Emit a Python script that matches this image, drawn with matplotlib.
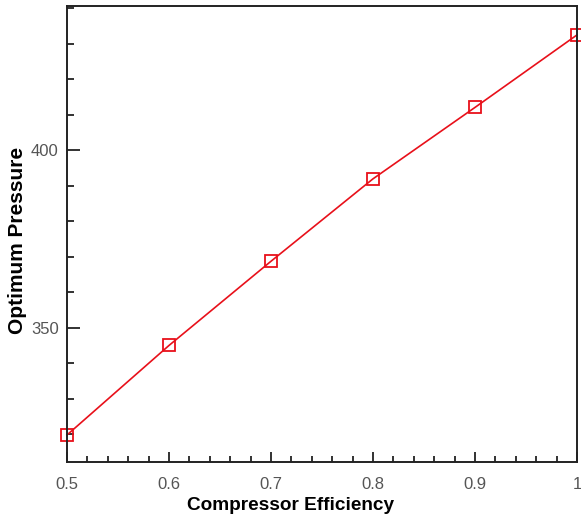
import matplotlib
matplotlib.use('Agg')
import matplotlib.pyplot as plt
from matplotlib.ticker import MultipleLocator

# data
efficiency = [0.5, 0.6, 0.7, 0.8, 0.9, 1.0]
pressure = [319.8, 345.0, 368.7, 391.9, 412.0, 432.4]

plt.rcParams['font.family'] = ['Liberation Sans', 'DejaVu Sans']

fig = plt.figure(figsize=(5.81, 5.17), dpi=100)
ax = fig.add_axes([0.1153, 0.1064, 0.8777, 0.8816])

ax.plot(efficiency, pressure, color='#e8101a', linewidth=1.2,
        marker='s', markersize=8, markerfacecolor='none',
        markeredgecolor='#e8101a', markeredgewidth=1.3, clip_on=False)

ax.set_xlim(0.5, 1.0)
ax.set_ylim(312.2, 440.5)

# major / minor ticks pointing inward
ax.xaxis.set_major_locator(MultipleLocator(0.1))
ax.xaxis.set_minor_locator(MultipleLocator(0.02))
ax.yaxis.set_major_locator(MultipleLocator(50))
ax.yaxis.set_minor_locator(MultipleLocator(10))
ax.tick_params(which='both', direction='in', top=False, right=False,
               colors='#222222', labelcolor='#555555', labelsize=12, width=1.3)
ax.tick_params(axis='x', which='major', length=7, pad=11)
ax.tick_params(axis='x', which='minor', length=4)
ax.tick_params(axis='y', which='major', length=9, pad=6)
ax.tick_params(axis='y', which='minor', length=5)
ax.set_xticks([0.5, 0.6, 0.7, 0.8, 0.9, 1.0], ['0.5', '0.6', '0.7', '0.8', '0.9', '1'])

for sp in ax.spines.values():
    sp.set_linewidth(1.4)
    sp.set_color('#222222')

ax.set_xlabel('Compressor Efficiency', fontsize=13.7, fontweight='bold')
ax.set_ylabel('Optimum Pressure', fontsize=15, fontweight='bold')
ax.xaxis.set_label_coords(0.439, -0.077)
ax.yaxis.set_label_coords(-0.078, 0.487)

fig.savefig('out.png', dpi=100)
plt.close(fig)
